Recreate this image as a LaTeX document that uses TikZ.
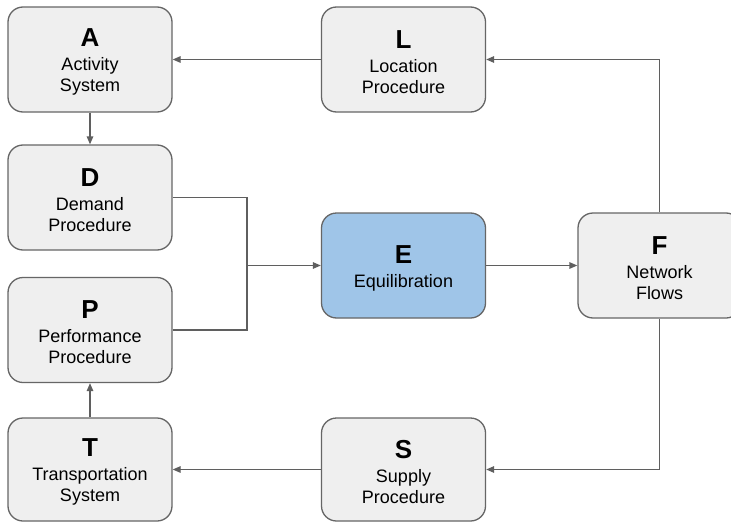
\documentclass[tikz,border=0pt]{standalone}
\usepackage{fontspec}
\setmainfont{Liberation Sans}
\usetikzlibrary{arrows.meta}
\definecolor{boxgray}{HTML}{EFEFEF}
\definecolor{bordergray}{HTML}{666666}
\definecolor{linegray}{HTML}{5F5F5F}
\definecolor{eblue}{HTML}{9FC5E8}
\newcommand{\lett}[1]{{\fontsize{26}{26}\selectfont\bfseries\rule{0pt}{23pt}#1}}
\begin{document}
\begin{tikzpicture}[x=1pt,y=-1pt,
  box/.style={draw=bordergray, line width=1.3pt, fill=boxgray, rounded corners=15pt,
    minimum width=164pt, minimum height=105pt, inner sep=0pt, align=center,
    font=\fontsize{18}{21}\selectfont},
  conn/.style={draw=linegray, line width=1.3pt, -{Triangle[length=8pt,width=6.5pt]}},
  plain/.style={draw=linegray, line width=1.3pt}]
\clip (0,0) rectangle (731,522);
\fill[white] (0,0) rectangle (731,522);
\node[box] (A) at (90,59.5) {\lett{A}\\[3pt]Activity\\System};
\node[box] (L) at (403.5,59.5) {\lett{L}\\[3pt]Location\\Procedure};
\node[box] (D) at (90,197.5) {\lett{D}\\[3pt]Demand\\Procedure};
\node[box] (P) at (90,330) {\lett{P}\\[3pt]Performance\\Procedure};
\node[box, fill=eblue] (E) at (403.5,265.5) {\lett{E}\\[3pt]Equilibration};
\node[box, minimum width=163pt] (F) at (659.5,265.5) {\lett{F}\\[3pt]Network\\Flows};
\node[box, minimum height=103pt] (T) at (90,469.5) {\lett{T}\\[3pt]Transportation\\System};
\node[box, minimum height=103pt] (S) at (403.5,469.5) {\lett{S}\\[3pt]Supply\\Procedure};
\coordinate (J) at (247,265.5);
\draw[conn] (L.west) -- (A.east);
\draw[conn] (A.south) -- (D.north);
\draw[plain] (D.east) -| (J);
\draw[plain] (P.east) -| (J);
\draw[conn] (J) -- (E.west);
\draw[conn] (E.east) -- (F.west);
\draw[conn] (F.north) |- (L.east);
\draw[conn] (F.south) |- (S.east);
\draw[conn] (S.west) -- (T.east);
\draw[conn] (T.north) -- (P.south);
\end{tikzpicture}
\end{document}
